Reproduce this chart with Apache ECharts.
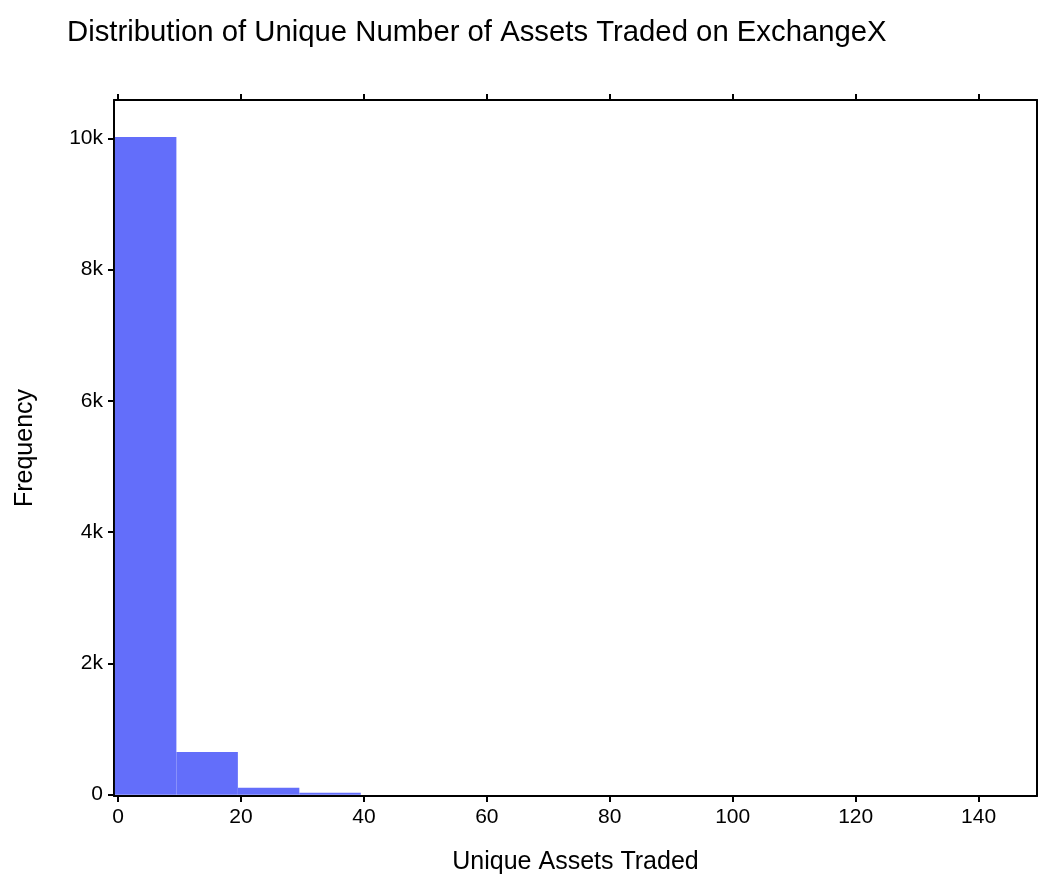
<!DOCTYPE html>
<html>
<head>
<meta charset="utf-8">
<script src="https://cdn.jsdelivr.net/npm/echarts@6/dist/echarts.min.js"></script>
<style>
html,body{margin:0;padding:0;background:#fff;}
#chart{width:1041px;height:884px;}
</style>
</head>
<body>
<div id="chart"></div>
<script>
const titleText = "Distribution of Unique Number of Assets Traded on ExchangeX";
const xAxisName = "Unique Assets Traded";
const yAxisName = "Frequency";
const binStarts = [-0.5, 9.5, 19.5, 29.5];
const binWidth = 10;
const counts = [10020, 652, 105, 30];
const xTicks = [0, 20, 40, 60, 80, 100, 120, 140];
const yTicks = [0, 2000, 4000, 6000, 8000, 10000];

const font = "'Liberation Sans', Arial, Helvetica, sans-serif";
const chart = echarts.init(document.getElementById('chart'), null, {renderer: 'canvas'});

const data = binStarts.map((s, i) => [s, s + binWidth, counts[i]]);
const axisLine = {show: true, onZero: false, lineStyle: {color: '#000', width: 2}};

chart.setOption({
  animation: false,
  title: {
    text: titleText, left: 62, top: 13,
    textStyle: {fontFamily: font, fontSize: 29.3, fontWeight: 'normal', color: '#000'}
  },
  grid: {left: 114, right: 4, top: 100, bottom: 88, containLabel: false},
  xAxis: [{
    type: 'value', min: -0.65, max: 149.5, position: 'bottom',
    name: xAxisName, nameLocation: 'middle', nameGap: 54,
    nameTextStyle: {fontFamily: font, fontSize: 25, color: '#000'},
    axisLine: axisLine,
    axisTick: {show: true, length: 6, lineStyle: {color: '#000', width: 2}, customValues: xTicks},
    axisLabel: {fontFamily: font, fontSize: 21, color: '#000', margin: 11, customValues: xTicks},
    splitLine: {show: false}
  }, {
    type: 'value', min: -0.65, max: 149.5, position: 'top',
    axisLine: axisLine,
    axisTick: {show: true, length: 6, lineStyle: {color: '#000', width: 2}, customValues: xTicks},
    axisLabel: {show: false},
    splitLine: {show: false}
  }],
  yAxis: [{
    type: 'value', min: -20, max: 10583, position: 'left',
    name: yAxisName, nameLocation: 'middle', nameGap: 76, nameRotate: 90,
    nameTextStyle: {fontFamily: font, fontSize: 25, color: '#000'},
    axisLine: axisLine,
    axisTick: {show: true, length: 6, lineStyle: {color: '#000', width: 2}, customValues: yTicks},
    axisLabel: {fontFamily: font, fontSize: 21, color: '#000', margin: 11, customValues: yTicks,
      formatter: v => v === 0 ? '0' : (v / 1000) + 'k'},
    splitLine: {show: false}
  }, {
    type: 'value', min: -20, max: 10583, position: 'right',
    axisLine: axisLine,
    axisTick: {show: false},
    axisLabel: {show: false},
    splitLine: {show: false}
  }],
  series: [{
    type: 'custom',
    xAxisIndex: 0, yAxisIndex: 0,
    data: data,
    encode: {x: [0, 1], y: 2},
    renderItem: function (params, api) {
      const p0 = api.coord([api.value(0), api.value(2)]);
      const p1 = api.coord([api.value(1), 0]);
      return {
        type: 'rect',
        shape: {x: p0[0], y: p0[1], width: p1[0] - p0[0], height: p1[1] - p0[1]},
        style: {fill: '#636efa'}
      };
    }
  }]
});
</script>
</body>
</html>
